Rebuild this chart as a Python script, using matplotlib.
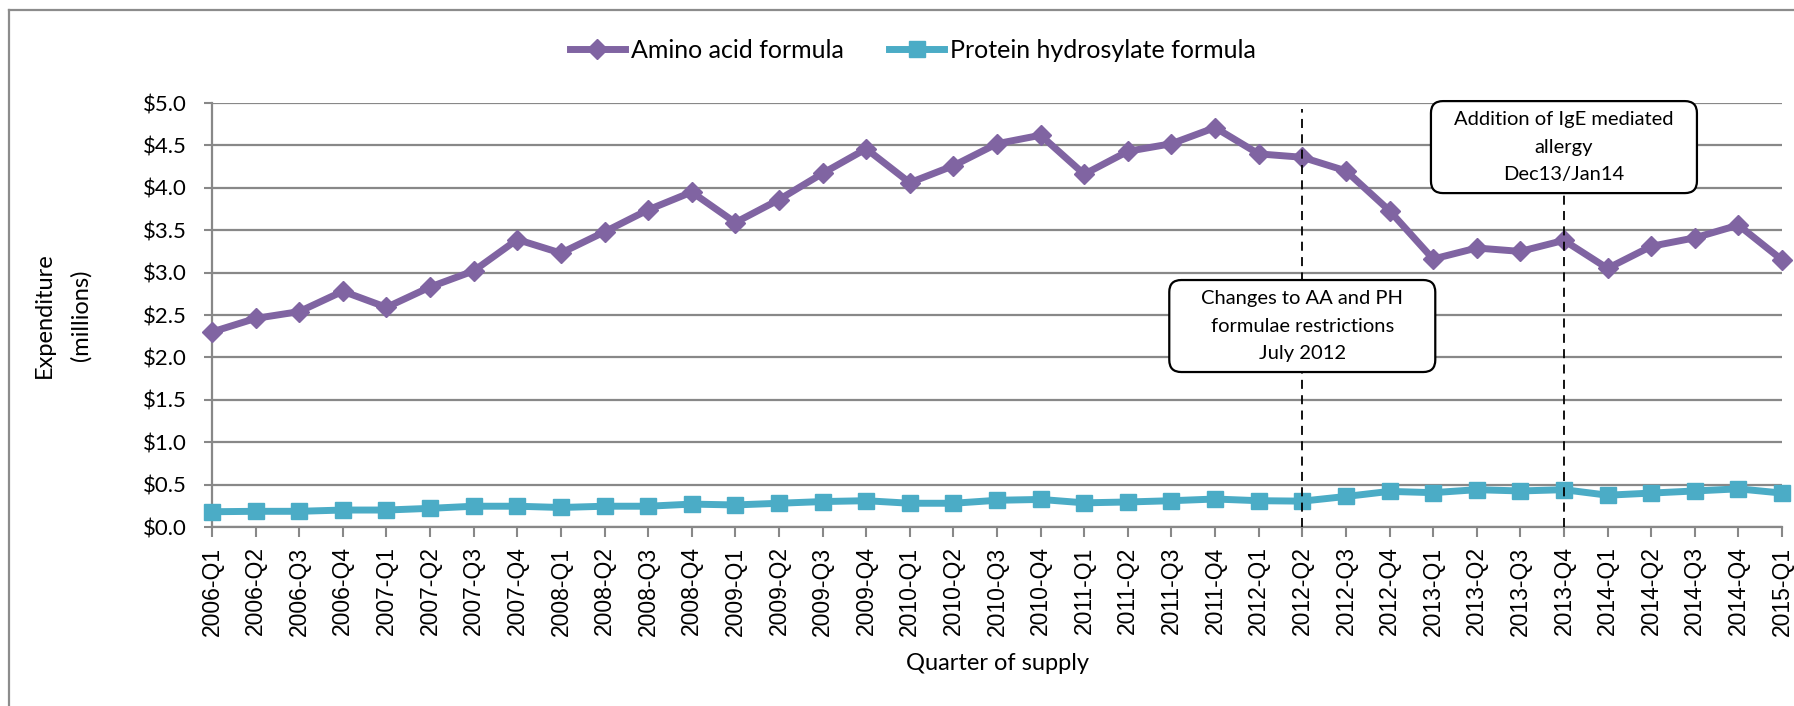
import matplotlib
matplotlib.use("Agg")
import matplotlib.pyplot as plt
import numpy as np
from matplotlib.patches import FancyBboxPatch
from matplotlib.lines import Line2D
from matplotlib.ticker import FuncFormatter

# ---------------- data ----------------
quarters = [
    "2006-Q1", "2006-Q2", "2006-Q3", "2006-Q4",
    "2007-Q1", "2007-Q2", "2007-Q3", "2007-Q4",
    "2008-Q1", "2008-Q2", "2008-Q3", "2008-Q4",
    "2009-Q1", "2009-Q2", "2009-Q3", "2009-Q4",
    "2010-Q1", "2010-Q2", "2010-Q3", "2010-Q4",
    "2011-Q1", "2011-Q2", "2011-Q3", "2011-Q4",
    "2012-Q1", "2012-Q2", "2012-Q3", "2012-Q4",
    "2013-Q1", "2013-Q2", "2013-Q3", "2013-Q4",
    "2014-Q1", "2014-Q2", "2014-Q3", "2014-Q4",
    "2015-Q1",
]
amino_acid = [
    2.30, 2.46, 2.54, 2.78,
    2.59, 2.83, 3.02, 3.39,
    3.23, 3.48, 3.74, 3.95,
    3.59, 3.86, 4.17, 4.46,
    4.06, 4.26, 4.52, 4.62,
    4.16, 4.43, 4.52, 4.71,
    4.40, 4.36, 4.20, 3.73,
    3.16, 3.29, 3.25, 3.38,
    3.05, 3.31, 3.41, 3.56,
    3.15,
]
protein_hydrosylate = [
    0.18, 0.185, 0.185, 0.20,
    0.20, 0.22, 0.245, 0.245,
    0.23, 0.245, 0.245, 0.27,
    0.26, 0.28, 0.30, 0.31,
    0.28, 0.28, 0.315, 0.325,
    0.285, 0.295, 0.31, 0.33,
    0.31, 0.305, 0.36, 0.42,
    0.405, 0.44, 0.425, 0.44,
    0.375, 0.40, 0.425, 0.45,
    0.40,
]
series_names = ["Amino acid formula", "Protein hydrosylate formula"]
event_quarters = ["2012-Q2", "2013-Q4"]
event_texts = [
    "Changes to AA and PH\nformulae restrictions\nJuly 2012",
    "Addition of IgE mediated\nallergy\nDec13/Jan14",
]
event_box_y = [2.37, 4.48]
y_ticks = [0.0, 0.5, 1.0, 1.5, 2.0, 2.5, 3.0, 3.5, 4.0, 4.5, 5.0]

# ---------------- style ----------------
W, H = 1794, 706
FONT = ["Lato", "DejaVu Sans"]
plt.rcParams["font.family"] = FONT
PURPLE = "#8064A2"
CYAN = "#4BACC6"
GRID = "#888888"

fig = plt.figure(figsize=(W / 100, H / 100), dpi=100)
left_px, right_px, top_px, bottom_px = 212, 1782, 103, 527
ax = fig.add_axes([left_px / W, 1 - bottom_px / H,
                   (right_px - left_px) / W, (bottom_px - top_px) / H])

x = np.arange(len(quarters))
l1, = ax.plot(x, amino_acid, color=PURPLE, lw=5, marker="D", ms=10.5,
              clip_on=False, zorder=3, label=series_names[0])
l2, = ax.plot(x, protein_hydrosylate, color=CYAN, lw=5, marker="s", ms=12,
              clip_on=False, zorder=3, label=series_names[1])

ax.set_xlim(0, len(quarters) - 1)
ax.set_ylim(0, 5)
ax.set_yticks(y_ticks)
ax.yaxis.set_major_formatter(FuncFormatter(lambda v, p: f"${v:.1f}"))
ax.set_xticks(x)
ax.set_xticklabels(quarters, rotation=90, family=["Liberation Sans", "DejaVu Sans"],
                   fontsize=16.5)

ax.grid(axis="y", color=GRID, lw=1.6)
ax.set_axisbelow(True)
for s in ["top", "right"]:
    ax.spines[s].set_visible(False)
for s in ["left", "bottom"]:
    ax.spines[s].set_color(GRID)
    ax.spines[s].set_linewidth(1.6)
ax.tick_params(axis="y", length=6, width=1.5, color=GRID, pad=12, labelsize=16)
ax.tick_params(axis="x", length=7, width=1.5, color=GRID, pad=7)

ax.set_ylabel("Expenditure\n(millions)", fontsize=17, linespacing=1.85)
ax.yaxis.set_label_coords((63 - left_px) / (right_px - left_px), 0.5)
ax.yaxis.label.set_va("center")
ax.set_xlabel("Quarter of supply", fontsize=17)
ax.xaxis.set_label_coords(0.5, (bottom_px - 664) / (bottom_px - top_px))
ax.xaxis.label.set_va("center")

# event lines and boxes
px_x = (right_px - left_px) / (len(quarters) - 1)
px_y = (bottom_px - top_px) / 5.0
box_w, box_h, rad = 266 / px_x, 92 / px_y, 12 / px_x
for q, txt, by in zip(event_quarters, event_texts, event_box_y):
    xi = quarters.index(q)
    ax.vlines(xi, 0, 4.93, colors="black", linestyles=(0, (5, 3.5)), lw=1.3,
              zorder=4, clip_on=False)
    box = FancyBboxPatch((xi - box_w / 2, by - box_h / 2), box_w, box_h,
                         boxstyle=f"round,pad=0,rounding_size={rad}",
                         mutation_aspect=px_x / px_y,
                         fc="white", ec="black", lw=1.6, zorder=5, clip_on=False)
    ax.add_patch(box)
    ax.text(xi, by, txt, ha="center", va="center", fontsize=14.5,
            linespacing=1.75, zorder=6, clip_on=False)

fig.legend(handles=[l1, l2], loc="center", bbox_to_anchor=(913 / W, 1 - 50 / H),
           ncol=2, frameon=False, fontsize=18, handlelength=2.2,
           handletextpad=0.25, columnspacing=1.8, numpoints=1)

# chart-area border (left and top visible)
fig.add_artist(Line2D([9 / W, 9 / W], [0, 1 - 10 / H], transform=fig.transFigure,
                      color="#8c8c8c", lw=1.6))
fig.add_artist(Line2D([9 / W, 1], [1 - 10 / H, 1 - 10 / H], transform=fig.transFigure,
                      color="#8c8c8c", lw=1.6))

fig.savefig("out.png", dpi=100, facecolor="white")
